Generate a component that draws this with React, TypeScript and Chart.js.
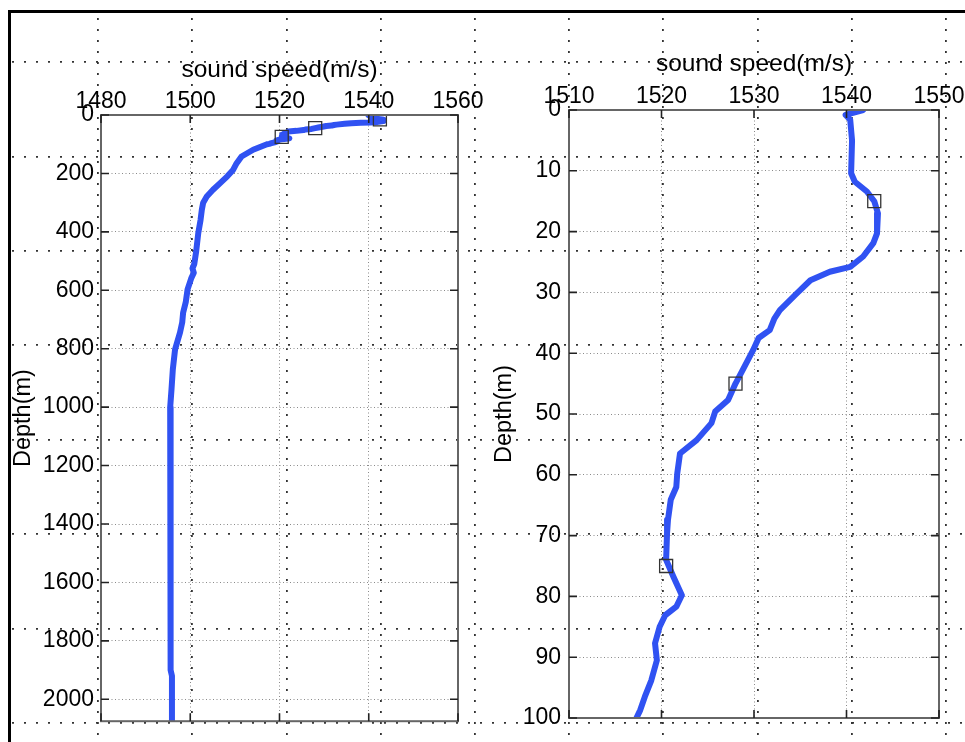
import React, { useEffect, useRef } from 'react';
import { Chart, registerables } from 'chart.js';

Chart.register(...registerables);

// ---------- data ----------
// sound speed profile, upper 100 m (used by both panels)
const shallowDepth = [0, 0.8, 1.6, 5, 10.4, 11.8, 13.4, 15, 17, 20.3, 21.9, 24.1, 25.8, 26.6, 28, 30.2, 32.9, 34.3, 36.2, 37.5, 39.5, 43, 45, 47.7, 49.6, 51.5, 54.3, 56.5, 59.8, 62, 64.1, 67.4, 69.6, 74, 76.8, 79.8, 81.7, 83.1, 85, 87.7, 90.5, 93.8, 96.5, 98.7, 100.3];
const shallowSpeed = [1541.8, 1539.9, 1540.4, 1540.6, 1540.5, 1540.9, 1542.2, 1543.0, 1543.4, 1543.3, 1542.9, 1541.8, 1540.4, 1538.2, 1536.1, 1534.6, 1532.8, 1532.2, 1531.7, 1530.5, 1529.9, 1528.7, 1528.0, 1527.2, 1525.8, 1525.4, 1523.8, 1522.0, 1521.7, 1521.6, 1521.0, 1520.7, 1520.6, 1520.5, 1521.3, 1522.2, 1521.6, 1520.4, 1519.8, 1519.3, 1519.5, 1518.9, 1518.2, 1517.7, 1517.2];
// deeper part of the profile (left panel only)
const deepDepth = [119, 142, 165, 188, 210, 233, 256, 279, 300, 324, 360, 404, 470, 510, 525, 540, 560, 597, 640, 677, 710, 745, 802, 870, 939, 1001, 1200, 1400, 1600, 1900, 1920, 2080];
const deepSpeed = [1514.1, 1511.5, 1510.4, 1509.6, 1508.3, 1506.7, 1505.1, 1503.7, 1502.9, 1502.6, 1502.3, 1501.8, 1501.3, 1500.9, 1500.5, 1500.8, 1500.2, 1499.4, 1499.0, 1498.4, 1498.2, 1497.7, 1496.6, 1496.1, 1495.8, 1495.5, 1495.6, 1495.6, 1495.6, 1495.6, 1495.9, 1495.9];

const markerDepth = [15, 45, 75];
const markerSpeedLeft = [1542.5, 1528.0, 1520.5];
const markerSpeedRight = [1543.0, 1528.0, 1520.5];

const leftXTicks = [1480, 1500, 1520, 1540, 1560];
const leftYTicks = [0, 200, 400, 600, 800, 1000, 1200, 1400, 1600, 1800, 2000];
const leftXRange = [1480, 1560];
const leftYRange = [0, 2075];

const rightXTicks = [1510, 1520, 1530, 1540, 1550];
const rightYTicks = [0, 10, 20, 30, 40, 50, 60, 70, 80, 90, 100];
const rightXRange = [1510, 1550];
const rightYRange = [0, 100];

const xTitle = 'sound speed(m/s)';
const yTitle = 'Depth(m)';

// background (figure) dotted grid: cell indices
const bgCols = [0, 1, 2, 3, 4, 5, 6, 7, 8, 9];
const bgRows = [0, 1, 2, 3, 4, 5, 6, 7];

// ---------- styling ----------
const FONT = "'Liberation Sans', Arial, Helvetica, sans-serif";
const BLUE = '#3052F2';

const boxPlugin = {
  id: 'boxTicks',
  afterDatasetsDraw(chart: any) {
    const { ctx, chartArea, scales } = chart;
    const { left, right, top, bottom } = chartArea;
    const x = scales.x;
    const y = scales.y;
    ctx.save();
    ctx.strokeStyle = '#666';
    ctx.lineWidth = 2;
    ctx.strokeRect(left, top, right - left, bottom - top);
    ctx.strokeStyle = '#222';
    ctx.lineWidth = 1.6;
    ctx.beginPath();
    x.ticks.forEach((t: any) => {
      const px = x.getPixelForValue(t.value);
      ctx.moveTo(px, top);
      ctx.lineTo(px, top + 8);
      ctx.moveTo(px, bottom);
      ctx.lineTo(px, bottom - 8);
    });
    y.ticks.forEach((t: any) => {
      const py = y.getPixelForValue(t.value);
      ctx.moveTo(left, py);
      ctx.lineTo(left + 8, py);
      ctx.moveTo(right, py);
      ctx.lineTo(right - 8, py);
    });
    ctx.stroke();
    ctx.restore();
  },
};

function zip(xs: number[], ys: number[]) {
  return xs.map((v, i) => ({ x: v, y: ys[i] }));
}

function panelConfig(p: any) {
  return {
    type: 'scatter',
    data: {
      datasets: [
        {
          data: zip(p.markerX, markerDepth),
          pointStyle: 'rect',
          pointRadius: 9.2,
          borderColor: '#333',
          borderWidth: 1.3,
          backgroundColor: 'rgba(0,0,0,0)',
          showLine: false,
        },
        {
          data: zip(p.lineX, p.lineY),
          showLine: true,
          borderColor: BLUE,
          backgroundColor: BLUE,
          borderWidth: 6,
          pointRadius: 0,
          tension: 0,
          clip: 0,
          borderJoinStyle: 'round',
          borderCapStyle: 'round',
        },
      ],
    },
    options: {
      animation: false,
      responsive: false,
      maintainAspectRatio: false,
      events: [],
      layout: { padding: p.padding },
      plugins: { legend: { display: false }, tooltip: { enabled: false } },
      scales: {
        x: {
          type: 'linear',
          position: 'top',
          min: p.xRange[0],
          max: p.xRange[1],
          afterBuildTicks: (s: any) => {
            s.ticks = p.xTicks.map((v: number) => ({ value: v }));
          },
          afterFit: (s: any) => {
            s.height = p.xH;
          },
          ticks: {
            autoSkip: false,
            maxRotation: 0,
            minRotation: 0,
            padding: 0,
            color: '#000',
            font: { family: FONT, size: 23 },
            callback: (v: any) => String(v),
          },
          grid: {
            color: '#8a8a8a',
            lineWidth: 1,
            drawTicks: false,
          },
          border: { display: false, dash: [1, 2.5] },
          title: {
            display: true,
            text: xTitle,
            color: '#000',
            font: { family: FONT, size: 24.5 },
            padding: { top: 0, bottom: 0 },
          },
        },
        y: {
          type: 'linear',
          position: 'left',
          reverse: true,
          min: p.yRange[0],
          max: p.yRange[1],
          afterBuildTicks: (s: any) => {
            s.ticks = p.yTicks.map((v: number) => ({ value: v }));
          },
          afterFit: (s: any) => {
            s.width = p.yW;
          },
          ticks: {
            autoSkip: false,
            padding: p.yPad,
            color: '#000',
            font: { family: FONT, size: 23 },
            callback: (v: any) => String(v),
          },
          grid: {
            color: '#8a8a8a',
            lineWidth: 1,
            drawTicks: false,
          },
          border: { display: false, dash: [1, 2.5] },
          title: {
            display: true,
            text: yTitle,
            color: '#000',
            font: { family: FONT, size: 23.5 },
            padding: { top: 0, bottom: 0 },
          },
        },
      },
    },
    plugins: [boxPlugin],
  };
}

function useChart(ref: any, cfgFactory: () => any) {
  useEffect(() => {
    const c = new Chart(ref.current, cfgFactory());
    return () => c.destroy();
  }, []);
}

export default function App() {
  const bgRef = useRef<HTMLCanvasElement>(null);
  const leftRef = useRef<HTMLCanvasElement>(null);
  const rightRef = useRef<HTMLCanvasElement>(null);

  useChart(bgRef, () => ({
    type: 'scatter',
    data: { datasets: [] },
    options: {
      animation: false,
      responsive: false,
      events: [],
      layout: { padding: 0 },
      plugins: { legend: { display: false }, tooltip: { enabled: false } },
      scales: {
        x: {
          type: 'linear',
          min: -86 / 94.2,
          max: (953 - 86) / 94.2,
          afterBuildTicks: (s: any) => {
            s.ticks = bgCols.map((v) => ({ value: v }));
          },
          afterFit: (s: any) => {
            s.height = 0;
          },
          ticks: { display: false },
          grid: { color: '#333', lineWidth: 1.8, drawTicks: false },
          border: { display: false, dash: [2, 9] },
        },
        y: {
          type: 'linear',
          reverse: true,
          min: -44 / 94.43,
          max: (724 - 44) / 94.43,
          afterBuildTicks: (s: any) => {
            s.ticks = bgRows.map((v) => ({ value: v }));
          },
          afterFit: (s: any) => {
            s.width = 0;
          },
          ticks: { display: false },
          grid: { color: '#333', lineWidth: 1.8, drawTicks: false },
          border: { display: false, dash: [2, 10] },
        },
      },
    },
  }));

  useChart(leftRef, () =>
    panelConfig({
      markerX: markerSpeedLeft,
      lineX: shallowSpeed.concat(deepSpeed),
      lineY: shallowDepth.concat(deepDepth),
      xRange: leftXRange,
      yRange: leftYRange,
      xTicks: leftXTicks,
      yTicks: leftYTicks,
      padding: { left: 9, top: 55.7, right: 42, bottom: 19 },
      xH: 59.3,
      yW: 92,
      yPad: 7,
    })
  );

  useChart(rightRef, () =>
    panelConfig({
      markerX: markerSpeedRight,
      lineX: shallowSpeed,
      lineY: shallowDepth,
      xRange: rightXRange,
      yRange: rightYRange,
      xTicks: rightXTicks,
      yTicks: rightYTicks,
      padding: { left: 10, top: 49.2, right: 61, bottom: 24 },
      xH: 60.8,
      yW: 79,
      yPad: 8,
    })
  );

  return (
    <div
      style={{
        position: 'fixed',
        left: 0,
        top: 0,
        width: 965,
        height: 742,
        overflow: 'hidden',
        background: '#fff',
      }}
    >
      <div
        style={{
          position: 'absolute',
          left: 8,
          top: 10,
          width: 1100,
          height: 1000,
          border: '3px solid #000',
          boxSizing: 'border-box',
        }}
      />
      <canvas
        ref={bgRef}
        width={953}
        height={724}
        style={{ position: 'absolute', left: 12, top: 18, width: 953, height: 724 }}
      />
      <canvas
        ref={leftRef}
        width={500}
        height={742}
        style={{ position: 'absolute', left: 0, top: 0, width: 500, height: 742 }}
      />
      <canvas
        ref={rightRef}
        width={520}
        height={742}
        style={{ position: 'absolute', left: 480, top: 0, width: 520, height: 742 }}
      />
    </div>
  );
}
